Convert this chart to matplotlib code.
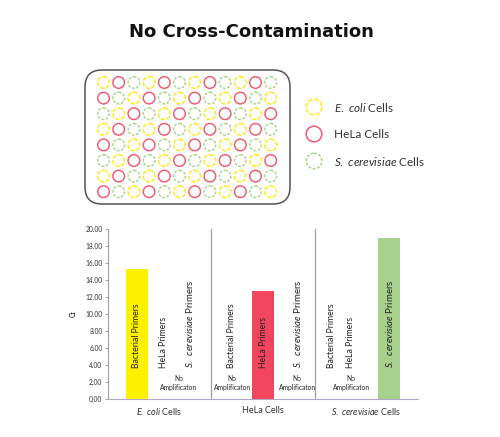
import numpy as np
import matplotlib.pyplot as plt
from matplotlib.patches import Circle, FancyBboxPatch

plt.rcParams.update({
    "font.family": ["Lato", "DejaVu Sans"],
    "mathtext.fontset": "custom",
    "mathtext.rm": "Lato",
    "mathtext.it": "Lato:italic",
    "mathtext.bf": "Lato:bold",
    "axes.linewidth": 0.8,
})

# Data
cell_types = ["E. coli", "HeLa", "S. cerevisiae"]
primers = ["Bacterial Primers", "HeLa Primers", "S. cerevisiae Primers"]
# Ct per (cell group, primer); None = no amplification
ct_values = [
    [15.3, None, None],
    [None, 12.7, None],
    [None, None, 18.9],
]
y_ticks = np.arange(0, 20.01, 2.0)

# 96-well plate layout: Y = E. coli, R = HeLa, G = S. cerevisiae
plate_rows = [
    "YRGYRGYRGYRG",
    "RGYRGYRGYRGY",
    "GYRGYRGYRGYR",
    "YRGYRGYRGYRG",
    "RGYRGYRGYRGY",
    "GYRGYRGYRGYR",
    "YRGYRGYRGYRG",
    "RGYRGYRGYRGY",
]

# Styles
colors = {"Y": "#ffe81c", "R": "#ee5a72", "G": "#a9d68c"}
bar_colors = ["#fff200", "#f2465f", "#a8d08d"]
well_styles = {"Y": (0, (3, 1)), "R": "-", "G": (0, (2, 1))}
legend_keys = ["Y", "R", "G"]


def italic_name(name, gap="~"):
    # italic species name via mathtext (Lato italic)
    return "$\\it{" + name.replace(" ", gap) + "}$"


fig = plt.figure(figsize=(5.0, 4.37), dpi=100)

# Overlay in pixel coordinates for the plate drawing
ov = fig.add_axes([0, 0, 1, 1])
ov.set_xlim(0, 500)
ov.set_ylim(437, 0)
ov.axis("off")

ov.text(251, 32, "No Cross-Contamination", ha="center", va="center",
        fontsize=13, fontweight="bold", family=["DejaVu Sans"],
        color="#111111")

ov.add_patch(FancyBboxPatch((85, 70), 205, 134,
                            boxstyle="round,pad=0,rounding_size=17",
                            fill=False, edgecolor="#555555", lw=1.1))

x0, y0, dx, dy, r = 103.5, 82.5, 15.2, 15.6, 5.8
for i, row in enumerate(plate_rows):
    for j, key in enumerate(row):
        ov.add_patch(Circle((x0 + j * dx, y0 + i * dy), r, fill=False,
                            edgecolor=colors[key], lw=1.05,
                            linestyle=well_styles[key]))

legend_y = [107, 134, 161]
for key, name, ly in zip(legend_keys, cell_types, legend_y):
    ov.add_patch(Circle((314, ly), 7.8, fill=False, edgecolor=colors[key],
                        lw=1.1, linestyle=well_styles[key]))
    label = f"{name} Cells" if key == "R" else italic_name(name) + " Cells"
    ov.text(334, ly, label, va="center", fontsize=8.5, color="#333333")

# Bar chart
ax = fig.add_axes([0.216, 0.087, 0.62, 0.389])
n_groups = len(cell_types)
bar_w = 0.655
bar_offsets = np.array([-1, 0, 1]) * bar_w + 1.5

for g in range(n_groups):
    for p in range(len(primers)):
        val = ct_values[g][p]
        if val is not None:
            ax.bar(3 * g + bar_offsets[p], val, width=bar_w,
                   color=bar_colors[p], edgecolor="none")

# label positions within each group (x in data units)
label_x = [
    [0.84, 1.60, 2.38],
    [3.60, 4.52, 5.49],
    [6.50, 7.03, 8.17],
]
noamp_x = [[2.06], [3.60, 5.49], [7.06]]

for g in range(n_groups):
    for p, name in enumerate(primers):
        if name.startswith("S. cerevisiae"):
            txt = italic_name("S. cerevisiae", gap="\\;\\;") + " Primers"
            fs = 6.9
        else:
            txt = name
            fs = 6.2
        ax.text(label_x[g][p], 3.7, txt, rotation=90, ha="center",
                va="bottom", fontsize=fs, color="#222222")
    for nx in noamp_x[g]:
        ax.text(nx, 1.9, "No\nAmplificaton", ha="center", va="center",
                fontsize=4.8, color="#222222", linespacing=1.3)

for sep in range(1, n_groups):
    ax.axvline(3 * sep, color="#a0a0a0", lw=0.9)

ax.set_xlim(0, 9)
ax.set_ylim(0, 20)
ax.set_yticks(y_ticks)
ax.set_yticklabels([f"{t:.2f}" for t in y_ticks], fontsize=4.8,
                   color="#333333")
ax.set_xticks([1.5, 4.5, 7.5])
ax.set_xticklabels([italic_name("E. coli") + " Cells", "HeLa Cells",
                    italic_name("S. cerevisiae") + " Cells"], fontsize=6.5,
                   color="#333333")
ax.tick_params(axis="x", length=0, pad=5)
ax.tick_params(axis="y", length=2, width=0.6, color="#999999", pad=2)
ax.set_ylabel("Ct", fontsize=4.8, labelpad=6)
for side in ["top", "right"]:
    ax.spines[side].set_visible(False)
ax.spines["left"].set_color("#a0a0a0")
ax.spines["bottom"].set_color("#b0a8c8")

fig.savefig("out.png", dpi=100)
